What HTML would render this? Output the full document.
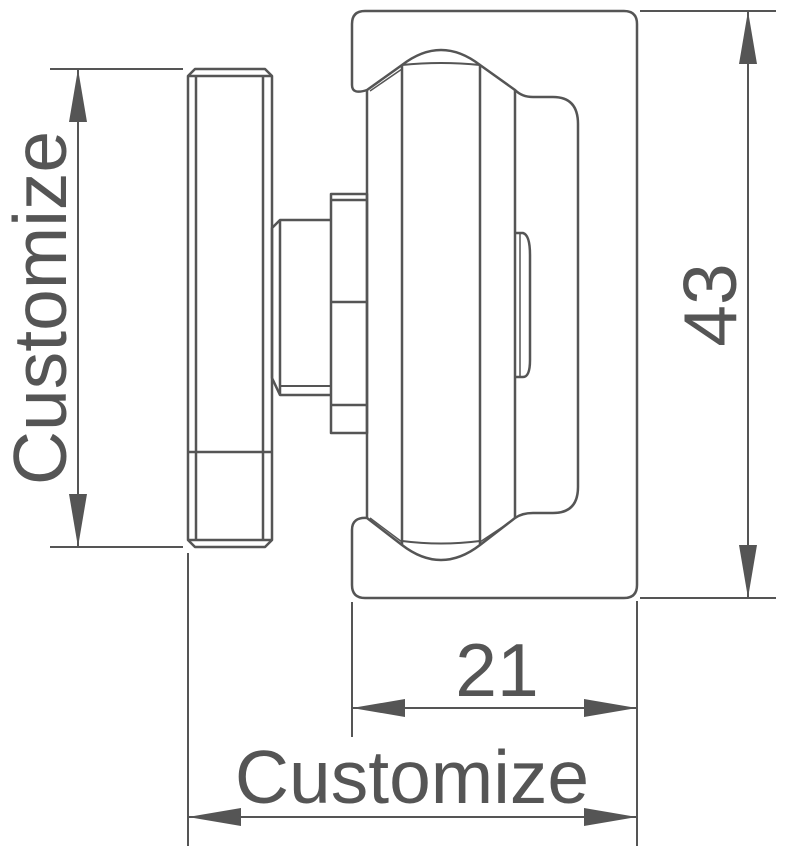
<!DOCTYPE html>
<html><head><style>html,body{margin:0;padding:0;background:#fff}svg{display:block}</style></head>
<body>
<svg width="786" height="850" viewBox="0 0 786 850" xmlns="http://www.w3.org/2000/svg">
<g fill="none" stroke="#555" stroke-width="2.5" stroke-linejoin="round">
<!-- bracket -->
<path d="M352 85 L352 24 Q352 11 365 11 L624 11 Q637 11 637 24 L637 585 Q637 598 624 598 L365 598 Q352 598 352 585 L352 530 Q352 517 367 518 L402 545 Q441 575 480 545 L515 518 Q522 513 533 513 L553 513 Q578 513 578 487 L578 124 Q578 97 553 97 L533 97 Q522 97 515 90 L480 65 Q441 35 402 65 L367 90 Q352 95 352 85 Z"/>
<!-- wheel vertical lines -->
<line x1="367" y1="90" x2="367" y2="518"/>
<line x1="402" y1="65" x2="402" y2="545"/>
<line x1="480" y1="65" x2="480" y2="545"/>
<line x1="515" y1="90" x2="515" y2="518"/>
<path d="M402 65 Q441 61 480 65" stroke-width="2"/>
<path d="M402 541 Q441 546 480 541" stroke-width="2"/>
<path d="M370 91 L402 69" stroke-width="1.5"/>
<path d="M370 518 L402 542" stroke-width="1.5"/>
<path d="M480 542 L513 520" stroke-width="1.5"/>
<!-- nub -->
<path d="M515 233 L523 233 Q530 235 530 255 L530 360 Q530 377 523 377 L515 377"/>
<line x1="520" y1="233" x2="520" y2="377" stroke-width="1.5"/>
<!-- hub -->
<rect x="331" y="194" width="36" height="239"/>
<line x1="331" y1="200" x2="367" y2="200"/>
<line x1="331" y1="302" x2="367" y2="302"/>
<line x1="331" y1="405" x2="367" y2="405"/>
<!-- shaft -->
<path d="M331 220 L280 220 L272 228 L272 378 L280 395 L331 395"/>
<line x1="280" y1="220" x2="280" y2="395"/>
<line x1="280" y1="386" x2="331" y2="386" stroke-width="2"/>
<!-- plate -->
<path d="M195 69 L265 69 L272 76 L272 540 L265 547 L195 547 L188 540 L188 76 Z"/>
<line x1="188" y1="76" x2="272" y2="76"/>
<line x1="188" y1="540" x2="272" y2="540"/>
<line x1="196" y1="76" x2="196" y2="540"/>
<line x1="263" y1="76" x2="263" y2="540"/>
<line x1="188" y1="452" x2="272" y2="452"/>
<!-- extension lines -->
<g stroke-width="2">
<line x1="50" y1="69" x2="183" y2="69"/>
<line x1="50" y1="547" x2="183" y2="547"/>
<line x1="640" y1="11" x2="776" y2="11"/>
<line x1="640" y1="598" x2="776" y2="598"/>
<line x1="352" y1="602" x2="352" y2="737"/>
<line x1="637" y1="601" x2="637" y2="846"/>
<line x1="188" y1="553" x2="188" y2="846"/>
<!-- dim lines -->
<line x1="78" y1="69" x2="78" y2="547"/>
<line x1="748" y1="11" x2="748" y2="598"/>
<line x1="352" y1="708" x2="637" y2="708"/>
<line x1="188" y1="817" x2="637" y2="817"/>
</g>
</g>
<g fill="#555">
<polygon points="78,69 69,122 87,122"/>
<polygon points="78,547 69,494 87,494"/>
<polygon points="748,11 739,64 757,64"/>
<polygon points="748,598 739,545 757,545"/>
<polygon points="352,708 405,699 405,717"/>
<polygon points="637,708 584,699 584,717"/>
<polygon points="188,817 241,808 241,826"/>
<polygon points="637,817 584,808 584,826"/>
</g>
<g fill="#555" font-family="Liberation Sans, Arial, sans-serif" font-size="75" text-anchor="middle">
<text x="497" y="696">21</text>
<text x="412" y="803">Customize</text>
<text transform="translate(66 308) rotate(-90)">Customize</text>
<text transform="translate(736 305) rotate(-90)">43</text>
</g>
</svg>
</body></html>
